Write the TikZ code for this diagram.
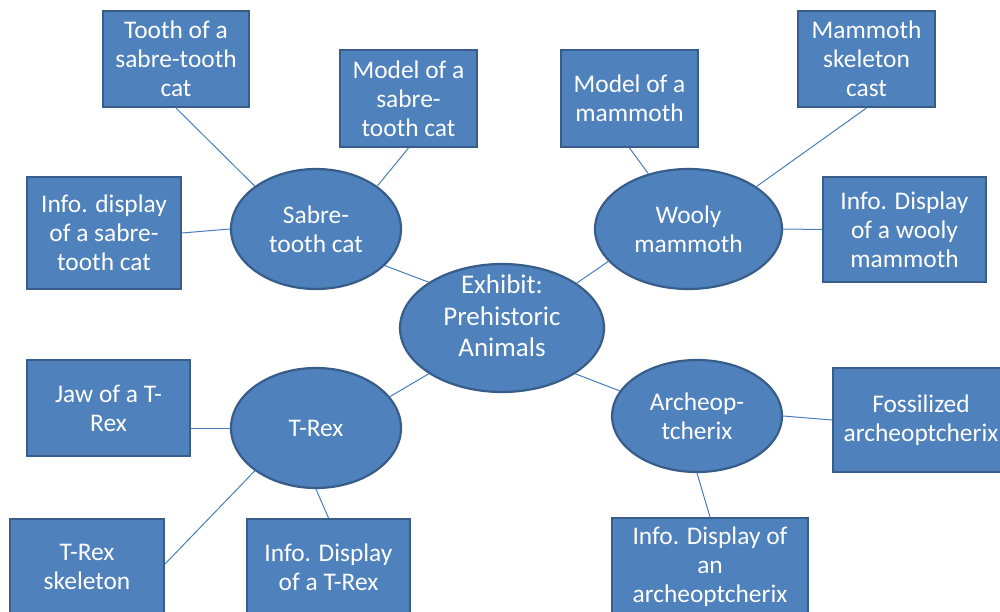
\documentclass[tikz,border=0pt]{standalone}
\usepackage{fontspec}
\setmainfont{Carlito}
\usetikzlibrary{shapes.geometric}
\definecolor{shapefill}{HTML}{4F81BD}
\definecolor{shapeedge}{HTML}{385D8A}
\definecolor{linkblue}{HTML}{4A7EBB}
\begin{document}
\begin{tikzpicture}[x=1pt,y=-1pt,
  every node/.style={text=white, align=center, inner sep=0pt,
    font=\fontsize{25.4}{29}\selectfont},
  box/.style={rectangle, draw=shapeedge, fill=shapefill, line width=2pt},
  hub/.style={ellipse, draw=shapeedge, fill=shapefill, line width=2.2pt},
  link/.style={draw=linkblue, line width=1pt}]
\clip (0,0) rectangle (1000,612);

% central topic
\node[hub, minimum width=204, minimum height=128] (exhibit) at (502,328) {};
\node[font=\fontsize{27}{31.5}\selectfont] (exhibitText) at (502,316) {Exhibit:\\Prehistoric\\Animals};

% animal groups
\node[hub, minimum width=170, minimum height=120] (sabre) at (316,229) {Sabre-\\tooth cat};
\node[hub, minimum width=187, minimum height=120] (wooly) at (688.5,229) {Wooly\\mammoth};
\node[hub, minimum width=170, minimum height=120] (trex) at (316,428) {T-Rex};
\node[hub, minimum width=170, minimum height=112] (archeo) at (697,416) {Archeop-\\tcherix};

% exhibit items
\node[box, minimum width=146, minimum height=96] (tooth) at (176,59) {Tooth of a\\sabre-tooth\\cat};
\node[box, minimum width=137, minimum height=97] (modelS) at (408.5,98.5) {Model of a\\sabre-\\tooth cat};
\node[box, minimum width=154, minimum height=112] (infoS) at (104,233) {Info. display\\of a sabre-\\tooth cat};
\node[box, minimum width=137, minimum height=97] (modelM) at (629.5,98.5) {Model of a\\mammoth};
\node[box, minimum width=137, minimum height=96] (skelM) at (866.5,59) {Mammoth\\skeleton\\cast};
\node[box, minimum width=163, minimum height=105] (infoW) at (904.5,229.5) {Info. Display\\of a wooly\\mammoth};
\node[box, minimum width=163, minimum height=96] (jaw) at (108.5,408) {Jaw of a T-\\Rex};
\node[box, minimum width=154, minimum height=96] (skelT) at (87,567) {T-Rex\\skeleton};
\node[box, minimum width=163, minimum height=96] (infoT) at (328.5,567) {Info. Display\\of a T-Rex};
\node[box, minimum width=176, minimum height=104] (fossil) at (921,420) {Fossilized\\archeoptcherix};
\node[box, minimum width=196, minimum height=98] (infoA) at (710,567) {Info. Display of\\an\\archeoptcherix};

% connectors from the centre
\draw[link] (exhibit.148) -- (sabre.332);
\draw[link] (exhibit.31) -- (wooly.202);
\draw[link] (exhibit.212) -- (trex.23);
\draw[link] (exhibit.328) -- (archeo.162);

% connectors to the items
\draw[link] (tooth.south) -- (sabre.145);
\draw[link] (modelS.south) -- (sabre.35);
\draw[link] (infoS.east) -- (sabre.west);
\draw[link] (modelM.south) -- (wooly.126);
\draw[link] (skelM.south) -- (wooly.32);
\draw[link] (infoW.west) -- (wooly.east);
\draw[link] (trex.west) -- (trex.west -| jaw.east);
\draw[link] ([yshift=3]skelT.east) -- (trex.215);
\draw[link] (infoT.north) -- (trex.south);
\draw[link] (archeo.east) -- (fossil.west);
\draw[link] (archeo.south) -- (infoA.north);
\end{tikzpicture}
\end{document}
